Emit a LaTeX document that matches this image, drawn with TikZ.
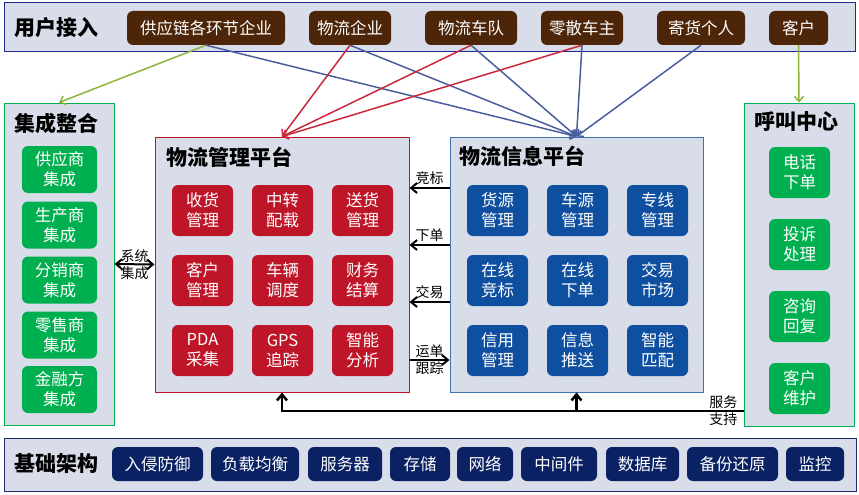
\documentclass[tikz,border=0pt]{standalone}
\usepackage{fontspec}
\setmainfont{Noto Sans CJK SC}
\usetikzlibrary{arrows.meta}
\definecolor{barbg}{HTML}{D9DDEA}
\definecolor{topline}{HTML}{1F2A96}
\definecolor{baseline}{HTML}{1F2F6B}
\definecolor{brownbox}{HTML}{4D260A}
\definecolor{greenbox}{HTML}{00B050}
\definecolor{redbox}{HTML}{BE1628}
\definecolor{bluebox}{HTML}{0F4FA0}
\definecolor{navybox}{HTML}{0A2163}
\definecolor{linkblue}{HTML}{4A5E9E}
\definecolor{linkred}{HTML}{C8283A}
\definecolor{linkgreen}{HTML}{8DB43C}
\begin{document}
\begin{tikzpicture}[x=1pt, y=-1pt,
    panel/.style = {draw, fill=barbg, line width=1pt, inner sep=0pt},
    title/.style = {anchor=west, inner sep=0pt, font=\fontsize{21}{24}\selectfont\bfseries},
    item/.style = {rounded corners=6pt, text=white, inner sep=0pt, align=center, font=\fontsize{16.5}{20}\selectfont},
    user/.style = {item, fill=brownbox, minimum height=34pt},
    infra/.style = {item, fill=navybox, minimum height=34pt},
    gleft/.style = {item, fill=greenbox, minimum width=75pt, minimum height=47pt},
    gright/.style = {item, fill=greenbox, minimum width=61pt, minimum height=51pt},
    rbox/.style = {item, fill=redbox, minimum width=61pt, minimum height=51pt},
    bbox/.style = {item, fill=bluebox, minimum width=61pt, minimum height=51pt},
    link/.style = {line width=1.5pt, -{Straight Barb[length=5pt, width=9pt]}},
    flow/.style = {line width=2pt, -{Straight Barb[length=6pt, width=10pt]}},
    tag/.style = {inner sep=2pt, align=center, font=\fontsize{14}{17}\selectfont}]
    \useasboundingbox (0,0) rectangle (859,495);
    % panels
    \node[panel, draw=topline, minimum width=851pt, minimum height=49pt] (top) at (429.5,27.5) {};
    \node[panel, draw=greenbox, minimum width=110pt, minimum height=322pt] (jc) at (59,264) {};
    \node[panel, draw=redbox, minimum width=254pt, minimum height=255pt] (mgmt) at (282,264.5) {};
    \node[panel, draw=bluebox!80, minimum width=253pt, minimum height=255pt] (info) at (576.5,264.5) {};
    \node[panel, draw=greenbox, minimum width=110pt, minimum height=323pt] (hj) at (799,264.5) {};
    \node[panel, draw=baseline, minimum width=852pt, minimum height=53pt] (base) at (430,464.5) {};
    % titles
    \node[title] (ttop) at (14,28) {用户接入};
    \node[title] (tjc) at (14,123) {集成整合};
    \node[title] (thj) at (754,122) {呼叫中心};
    \node[title] (tmgmt) at (166,157) {物流管理平台};
    \node[title] (tinfo) at (459,156) {物流信息平台};
    \node[title] (tbase) at (14,464) {基础架构};
    % user access
    \node[user, minimum width=158pt] (u1) at (206,28) {供应链各环节企业};
    \node[user, minimum width=82pt] (u2) at (350,28) {物流企业};
    \node[user, minimum width=92pt] (u3) at (471,28) {物流车队};
    \node[user, minimum width=82pt] (u4) at (582,28) {零散车主};
    \node[user, minimum width=88pt] (u5) at (701,28) {寄货个人};
    \node[user, minimum width=59pt] (u6) at (798.5,28) {客户};
    % integration
    \node[gleft] (j1) at (59.5,169.5) {供应商\\集成};
    \node[gleft] (j2) at (59.5,225) {生产商\\集成};
    \node[gleft] (j3) at (59.5,280) {分销商\\集成};
    \node[gleft] (j4) at (59.5,335) {零售商\\集成};
    \node[gleft] (j5) at (59.5,389.5) {金融方\\集成};
    % logistics management
    \node[rbox] (m1) at (202.5,210.5) {收货\\管理};
    \node[rbox] (m2) at (282.5,210.5) {中转\\配载};
    \node[rbox] (m3) at (362.5,210.5) {送货\\管理};
    \node[rbox] (m4) at (202.5,280.5) {客户\\管理};
    \node[rbox] (m5) at (282.5,280.5) {车辆\\调度};
    \node[rbox] (m6) at (362.5,280.5) {财务\\结算};
    \node[rbox] (m7) at (202.5,350.5) {PDA\\采集};
    \node[rbox] (m8) at (282.5,350.5) {GPS\\追踪};
    \node[rbox] (m9) at (362.5,350.5) {智能\\分析};
    % logistics information
    \node[bbox] (i1) at (497.5,210.5) {货源\\管理};
    \node[bbox] (i2) at (577.5,210.5) {车源\\管理};
    \node[bbox] (i3) at (657.5,210.5) {专线\\管理};
    \node[bbox] (i4) at (497.5,280.5) {在线\\竞标};
    \node[bbox] (i5) at (577.5,280.5) {在线\\下单};
    \node[bbox] (i6) at (657.5,280.5) {交易\\市场};
    \node[bbox] (i7) at (497.5,350.5) {信用\\管理};
    \node[bbox] (i8) at (577.5,350.5) {信息\\推送};
    \node[bbox] (i9) at (657.5,350.5) {智能\\匹配};
    % call center
    \node[gright] (h1) at (799.5,172.5) {电话\\下单};
    \node[gright] (h2) at (799.5,244.5) {投诉\\处理};
    \node[gright] (h3) at (799.5,316.5) {咨询\\回复};
    \node[gright] (h4) at (799.5,388.5) {客户\\维护};
    % infrastructure
    \node[infra, minimum width=91pt] (b1) at (157.5,464) {入侵防御};
    \node[infra, minimum width=88pt] (b2) at (255,464) {负载均衡};
    \node[infra, minimum width=74pt] (b3) at (345,464) {服务器};
    \node[infra, minimum width=60pt] (b4) at (420,464) {存储};
    \node[infra, minimum width=56pt] (b5) at (485,464) {网络};
    \node[infra, minimum width=76pt] (b6) at (559,464) {中间件};
    \node[infra, minimum width=73pt] (b7) at (642.5,464) {数据库};
    \node[infra, minimum width=91pt] (b8) at (732.5,464) {备份还原};
    \node[infra, minimum width=58pt] (b9) at (815,464) {监控};
    % links from users
    \draw[link, linkgreen] (u1.south) -- (jc.north);
    \draw[link, linkgreen] (u6.south) -- (hj.north);
    \draw[link, linkblue] (u1.south) -- (info.north);
    \draw[link, linkblue] (u2.south) -- (info.north);
    \draw[link, linkblue] (u3.south) -- (info.north);
    \draw[link, linkblue] (u4.south) -- (info.north);
    \draw[link, linkblue] (u5.south) -- (info.north);
    \draw[link, linkred] (u2.south) -- (mgmt.north);
    \draw[link, linkred] (u3.south) -- (mgmt.north);
    \draw[link, linkred] (u4.south) -- (mgmt.north);
    % between platforms
    \draw[flow] ([yshift=76.5pt]info.west) -- node[tag, above] {竞标} ([yshift=76.5pt]mgmt.east);
    \draw[flow] ([yshift=19.5pt]info.west) -- node[tag, above] {下单} ([yshift=19.5pt]mgmt.east);
    \draw[flow] ([yshift=-37.5pt]info.west) -- node[tag, above] {交易} ([yshift=-37.5pt]mgmt.east);
    \draw[flow] ([yshift=-95.5pt]mgmt.east) -- node[tag, inner sep=0pt] {运单\\跟踪} ([yshift=-95.5pt]info.west);
    \draw[flow, {Straight Barb[length=6pt, width=10pt]}-{Straight Barb[length=6pt, width=10pt]}] (jc.east) -- node[tag, inner sep=0pt] {系统\\集成} (mgmt.west);
    % service support
    \coordinate (fb) at ([yshift=-146.5pt]hj.west);
    \draw[flow, line width=2.5pt] (fb) -| (mgmt.south);
    \draw[flow, line width=2.5pt] (info.south |- fb) -- (info.south);
    \node[tag, left=4pt] (fbtag) at (fb) {服务\\支持};
\end{tikzpicture}
\end{document}
